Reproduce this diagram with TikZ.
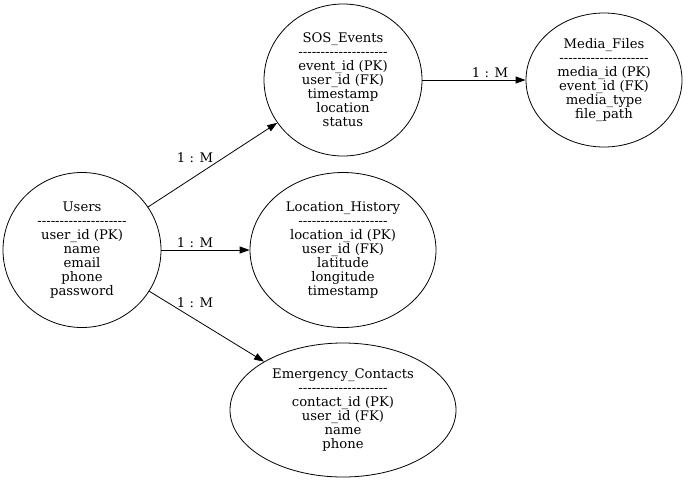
\documentclass[tikz,border=0pt]{standalone}
\usepackage{fontspec}
\setmainfont{DejaVu Serif}
\usetikzlibrary{shapes.geometric,arrows.meta}
\newcommand\dd{-\kern0pt}
\newcommand\dline{\dd\dd\dd\dd\dd\dd\dd\dd\dd\dd\dd\dd\dd\dd\dd\dd\dd\dd\dd\dd}
\tikzset{
  entity/.style={draw, ellipse, inner sep=0pt, align=center, line width=0.8pt,
    font=\fontsize{13.2}{14}\selectfont},
  rel/.style={draw, line width=0.8pt, -{Triangle[length=10pt,width=7pt]}},
  lbl/.style={inner sep=0pt, font=\fontsize{13.2}{14}\selectfont}
}
\begin{document}
\begin{tikzpicture}[x=1pt,y=-1pt]
\useasboundingbox (0,0) rectangle (687,480);
\node[entity, minimum width=158pt, minimum height=155pt] (users) at (82,250)
  {Users\\\dline\\user\_id (PK)\\name\\email\\phone\\password};
\node[entity, minimum width=158pt, minimum height=152pt] (sos) at (343,80)
  {SOS\_Events\\\dline\\event\_id (PK)\\user\_id (FK)\\timestamp\\location\\status};
\node[entity, minimum width=156pt, minimum height=134pt] (media) at (604,80)
  {Media\_Files\\\dline\\media\_id (PK)\\event\_id (FK)\\media\_type\\file\_path};
\node[entity, minimum width=186pt, minimum height=155pt] (loc) at (343,250)
  {Location\_History\\\dline\\location\_id (PK)\\user\_id (FK)\\latitude\\longitude\\timestamp};
\node[entity, minimum width=226pt, minimum height=134pt] (emerg) at (343,410)
  {Emergency\_Contacts\\\dline\\contact\_id (PK)\\user\_id (FK)\\name\\phone};
\draw[rel] (users) -- (sos);
\draw[rel] (users) -- (loc);
\draw[rel] (users) -- (emerg);
\draw[rel] (sos) -- (media);
\node[lbl] (l1) at (195,158) {1 : M};
\node[lbl] (l2) at (195,243) {1 : M};
\node[lbl] (l3) at (195,303) {1 : M};
\node[lbl] (l4) at (490,73) {1 : M};
\end{tikzpicture}
\end{document}
